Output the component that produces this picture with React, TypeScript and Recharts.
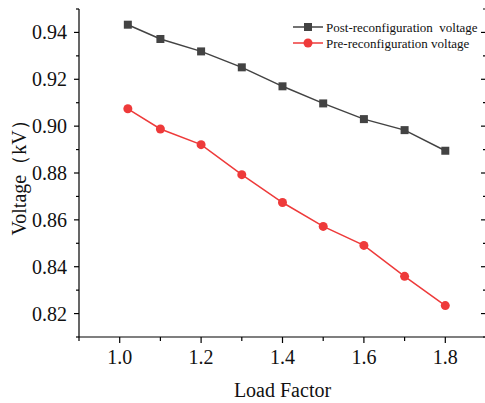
import * as React from 'react';
import { Line, LineChart, XAxis, YAxis } from 'recharts';

const loadFactor = [1.02, 1.1, 1.2, 1.3, 1.4, 1.5, 1.6, 1.7, 1.8];
const postVoltage = [0.9433, 0.9372, 0.9319, 0.9251, 0.917, 0.9097, 0.903, 0.8983, 0.8895];
const preVoltage = [0.9074, 0.8988, 0.8921, 0.8793, 0.8674, 0.8572, 0.8491, 0.8359, 0.8234];

const xTicks = [0.9, 1.0, 1.1, 1.2, 1.3, 1.4, 1.5, 1.6, 1.7, 1.8, 1.9];
const yTicks = [0.81, 0.82, 0.83, 0.84, 0.85, 0.86, 0.87, 0.88, 0.89, 0.9, 0.91, 0.92, 0.93, 0.94, 0.95];

const seriesNames = ['Post-reconfiguration  voltage', 'Pre-reconfiguration voltage'];

const data = loadFactor.map((x, i) => ({ x, post: postVoltage[i], pre: preVoltage[i] }));

const FONT = '"Liberation Serif", "Times New Roman", serif';
const GRAY = '#434343';
const RED = '#ee3a3a';
const txt = { fontFamily: FONT };

const isMajorX = (v: number) => Math.round(v * 10) % 2 === 0 && v > 0.95 && v < 1.85;
const isMajorY = (v: number) => Math.round(v * 100) % 2 === 0;

function BottomTick({ x, y, payload }: any) {
  const major = isMajorX(payload.value);
  return (
    <g>
      <line x1={x} x2={x} y1={y} y2={y + (major ? 6 : 4)} stroke="#000" strokeWidth={1.2} />
      {major && (
        <text x={x} y={y + 27} textAnchor="middle" style={txt} fontSize={20} fill="#111">
          {payload.value.toFixed(1)}
        </text>
      )}
    </g>
  );
}

function TopTick({ x, y, payload }: any) {
  const major = isMajorX(payload.value);
  return <line x1={x} x2={x} y1={y} y2={y + (major ? 5 : 3)} stroke="#000" strokeWidth={1.2} />;
}

function LeftTick({ x, y, payload }: any) {
  const major = isMajorY(payload.value);
  return (
    <g>
      <line x1={x} x2={x - (major ? 5 : 3)} y1={y} y2={y} stroke="#000" strokeWidth={1.2} />
      {major && (
        <text x={x - 12} y={y} dy={7} textAnchor="end" style={txt} fontSize={20} fill="#111">
          {payload.value.toFixed(2)}
        </text>
      )}
    </g>
  );
}

function RightTick({ x, y, payload }: any) {
  const major = isMajorY(payload.value);
  return <line x1={x} x2={x - (major ? 5 : 3)} y1={y} y2={y} stroke="#000" strokeWidth={1.2} />;
}

function SquareDot({ cx, cy }: any) {
  return <rect x={cx - 4} y={cy - 4} width={8} height={8} fill={GRAY} />;
}

function LegendBox() {
  const rows = [
    { name: seriesNames[0], color: GRAY, square: true },
    { name: seriesNames[1], color: RED, square: false },
  ];
  return (
    <svg width={195} height={34} style={{ position: 'absolute', left: 290, top: 19 }}>
      {rows.map((r, i) => {
        const cy = 8 + i * 16;
        return (
          <g key={r.name}>
            <line x1={3} x2={33} y1={cy} y2={cy} stroke={r.color} strokeWidth={1.5} />
            {r.square ? (
              <rect x={14} y={cy - 4} width={8} height={8} fill={r.color} />
            ) : (
              <circle cx={18} cy={cy} r={4.5} fill={r.color} />
            )}
            <text x={36} y={cy + 4.5} fontSize={13} fill="#111" style={{ ...txt, whiteSpace: 'pre' }}>
              {r.name}
            </text>
          </g>
        );
      })}
    </svg>
  );
}

export default function App() {
  return (
    <div style={{ position: 'absolute', left: 0, top: 0, width: 485, height: 403, overflow: 'hidden', background: '#fff' }}>
      <LineChart width={500} height={403} data={data} margin={{ top: 9, right: 0, bottom: 0, left: 0 }}>
        <XAxis
          xAxisId="b"
          dataKey="x"
          type="number"
          domain={[0.9, 1.9]}
          ticks={xTicks}
          interval={0}
          allowDataOverflow
          height={66}
          tickSize={0}
          tickMargin={0}
          tickLine={false}
          tick={<BottomTick />}
          axisLine={{ stroke: '#000', strokeWidth: 1.2 }}
          label={{
            content: ({ viewBox }: any) => (
              <text
                x={viewBox.x + viewBox.width / 2}
                y={viewBox.y + 60}
                textAnchor="middle"
                style={txt}
                fontSize={20}
                fill="#111"
              >
                Load Factor
              </text>
            ),
          }}
        />
        <XAxis
          xAxisId="t"
          orientation="top"
          dataKey="x"
          type="number"
          domain={[0.9, 1.9]}
          ticks={xTicks}
          interval={0}
          allowDataOverflow
          height={0}
          tickSize={0}
          tickMargin={0}
          tickLine={false}
          tick={<TopTick />}
          axisLine={{ stroke: '#000', strokeWidth: 1.2 }}
        />
        <YAxis
          yAxisId="l"
          type="number"
          domain={[0.81, 0.95]}
          ticks={yTicks}
          interval={0}
          allowDataOverflow
          width={79}
          tickSize={0}
          tickMargin={0}
          tickLine={false}
          tick={<LeftTick />}
          axisLine={{ stroke: '#000', strokeWidth: 1.2 }}
          label={{
            content: ({ viewBox }: any) => {
              const cx = 25.5;
              const cy = viewBox.y + viewBox.height / 2;
              return (
                <text
                  x={cx}
                  y={cy}
                  textAnchor="middle"
                  transform={`rotate(-90 ${cx} ${cy})`}
                  style={txt}
                  fontSize={20}
                  fill="#111"
                >
                  Voltage（kV）
                </text>
              );
            },
          }}
        />
        <YAxis
          yAxisId="r"
          orientation="right"
          type="number"
          domain={[0.81, 0.95]}
          ticks={yTicks}
          interval={0}
          allowDataOverflow
          width={14}
          tickSize={0}
          tickMargin={0}
          tickLine={false}
          tick={<RightTick />}
          axisLine={{ stroke: '#000', strokeWidth: 1.2 }}
        />
        <Line
          xAxisId="b"
          yAxisId="l"
          dataKey="post"
          name={seriesNames[0]}
          stroke={GRAY}
          strokeWidth={1.5}
          dot={<SquareDot />}
          activeDot={false}
          isAnimationActive={false}
        />
        <Line
          xAxisId="b"
          yAxisId="l"
          dataKey="pre"
          name={seriesNames[1]}
          stroke={RED}
          strokeWidth={1.5}
          dot={{ r: 4.5, fill: RED, stroke: RED, strokeWidth: 0 }}
          activeDot={false}
          isAnimationActive={false}
        />
      </LineChart>
      <LegendBox />
    </div>
  );
}
